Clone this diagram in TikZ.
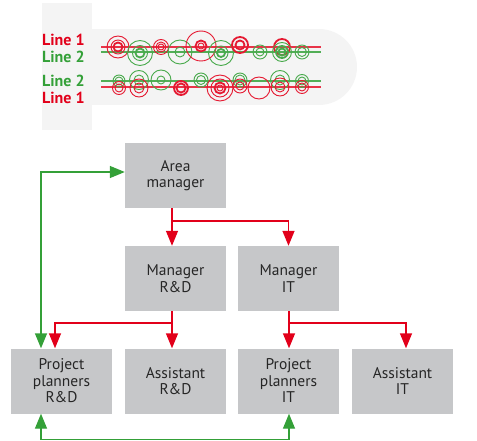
\documentclass[tikz,border=0pt]{standalone}
\usepackage{fontspec}
\setmainfont{PT Sans}
\usepackage{xcolor}
\usetikzlibrary{positioning,arrows.meta}
\definecolor{boxgray}{HTML}{C6C7C9}
\definecolor{panelgray}{HTML}{F4F4F4}
\definecolor{orgred}{HTML}{E2001A}
\definecolor{orggreen}{HTML}{34A038}

\begin{document}
\begin{tikzpicture}[x=1pt, y=-1pt,
  box/.style={fill=boxgray, minimum width=101pt, minimum height=65pt, inner sep=0pt,
    align=center, text=black!85, font=\fontsize{15.5}{16.5}\selectfont},
  linelabel/.style={anchor=west, inner sep=0pt, font=\bfseries\fontsize{16}{16}\selectfont},
  redarrow/.style={draw=orgred, line width=1.4pt, -{Triangle[length=15pt, width=12pt]}},
  greenarrow/.style={draw=orggreen, line width=1.4pt, {Triangle[length=15pt, width=12pt]}-{Triangle[length=15pt, width=12pt]}},
  ringred/.style={draw=orgred!90, line width=0.9pt},
  ringgreen/.style={draw=orggreen!90, line width=0.9pt},
  heavy/.style={line width=1.8pt},
  track/.style={line width=1.2pt}
]
\useasboundingbox (0,0) rectangle (477,441);

% Track panel
\fill[panelgray] (42,3) rectangle (92,130);
\fill[panelgray] (92,29) rectangle (319,105);
\fill[panelgray] (319,67) circle[radius=38pt];

\node[linelabel, text=orgred] (lblup1) at (42,40) {Line 1};
\node[linelabel, text=orggreen] (lblup2) at (42,57) {Line 2};
\node[linelabel, text=orggreen] (lbllo2) at (42,81) {Line 2};
\node[linelabel, text=orgred] (lbllo1) at (42,98) {Line 1};

% Upper tracks
\draw[track, orgred!80] (101,47) -- (321,47);
\draw[track, orggreen!85] (101,52) -- (321,52);
\draw[ringred] (118,47) circle[radius=11pt] circle[radius=7pt];
\draw[ringred, heavy] (118,47) circle[radius=4.5pt];
\draw[ringgreen] (140,53) circle[radius=12.5pt] circle[radius=7.5pt];
\draw[ringgreen, heavy] (140,53) circle[radius=4.5pt];
\draw[ringred] (161,47) circle[radius=7.5pt] circle[radius=5pt] circle[radius=3pt];
\draw[ringgreen] (180,52) circle[radius=12pt] circle[radius=5pt];
\draw[ringred] (201,46) circle[radius=15pt] circle[radius=3pt];
\draw[ringred, heavy] (201,46) circle[radius=5.5pt];
\draw[ringgreen] (221,53) circle[radius=12.5pt] circle[radius=7pt];
\draw[ringgreen, heavy] (221,53) circle[radius=4pt];
\draw[ringred, heavy] (240,45) circle[radius=8pt] circle[radius=4.5pt];
\draw[ringgreen] (260,52) circle[radius=7pt] circle[radius=4pt];
\draw[ringred, heavy] (282,47) circle[radius=8pt];
\draw[ringgreen] (282,52) circle[radius=9.5pt];
\draw[ringgreen, heavy] (282,52) circle[radius=6pt] circle[radius=3.5pt];
\draw[ringgreen] (302,52) circle[radius=7pt] circle[radius=4.5pt];

% Lower tracks
\draw[track, orggreen!85] (101,81) -- (321,81);
\draw[track, orgred!80] (101,87) -- (321,87);
\draw[ringgreen] (119,81) circle[radius=6pt] circle[radius=4pt];
\draw[ringred] (119,88) circle[radius=6.5pt] circle[radius=4pt];
\draw[ringgreen] (139,80) circle[radius=9.5pt] circle[radius=5pt];
\draw[ringred] (139,88) circle[radius=9pt] circle[radius=5pt];
\draw[ringgreen] (161,80) circle[radius=10pt] circle[radius=4pt];
\draw[ringred, heavy] (181,88) circle[radius=7pt] circle[radius=4.5pt];
\draw[ringgreen] (201,80) circle[radius=7pt] circle[radius=4.5pt];
\draw[ringred] (220,88) circle[radius=13pt] circle[radius=9pt] circle[radius=3pt];
\draw[ringred, heavy] (220,88) circle[radius=5.5pt];
\draw[ringgreen] (240,80) circle[radius=7pt] circle[radius=5pt];
\draw[ringred] (240,86) circle[radius=7pt] circle[radius=4pt];
\draw[ringred] (259,88) circle[radius=11pt];
\draw[ringgreen] (280,80) circle[radius=9.5pt] circle[radius=5pt];
\draw[ringred] (280,87) circle[radius=9pt] circle[radius=5pt];
\draw[ringgreen] (302,81) circle[radius=6.5pt] circle[radius=4pt];
\draw[ringred] (302,87) circle[radius=6.5pt] circle[radius=4pt];

% Organisation boxes
\node[box] (area) at (175.5,175.5) {Area\\manager};
\node[box] (mgrrd) at (175.5,278.5) {Manager\\R\&D};
\node[box] (mgrit) at (288.5,278.5) {Manager\\IT};
\node[box] (pprd) at (61.5,381) {Project\\planners\\R\&D};
\node[box] (asrd) at (175.5,381) {Assistant\\R\&D};
\node[box] (ppit) at (288.5,381) {Project\\planners\\IT};
\node[box] (asit) at (402.5,381) {Assistant\\IT};

% Reporting lines
\coordinate (ja) at (172,221);
\coordinate (jb) at (172,323);
\coordinate (jc) at (289,323);
\draw[redarrow] (ja |- area.south) -- (ja |- mgrrd.north);
\draw[redarrow] (ja) -| (mgrit.north);
\draw[redarrow] (jb |- mgrrd.south) -- (jb |- asrd.north);
\draw[redarrow] (jb) -| ([xshift=-6.5pt]pprd.north);
\draw[redarrow] (jc |- mgrit.south) -- (jc |- ppit.north);
\draw[redarrow] (jc) -| ([xshift=3.5pt]asit.north);

% Coordination lines
\coordinate (gc) at (41,172);
\coordinate (gd) at (41,439.5);
\draw[greenarrow] (gc -| area.west) -- (gc) -- (gc |- pprd.north);
\draw[greenarrow] (gd |- pprd.south) -- (gd) -| ([xshift=0.5pt]ppit.south);

\end{tikzpicture}
\end{document}
